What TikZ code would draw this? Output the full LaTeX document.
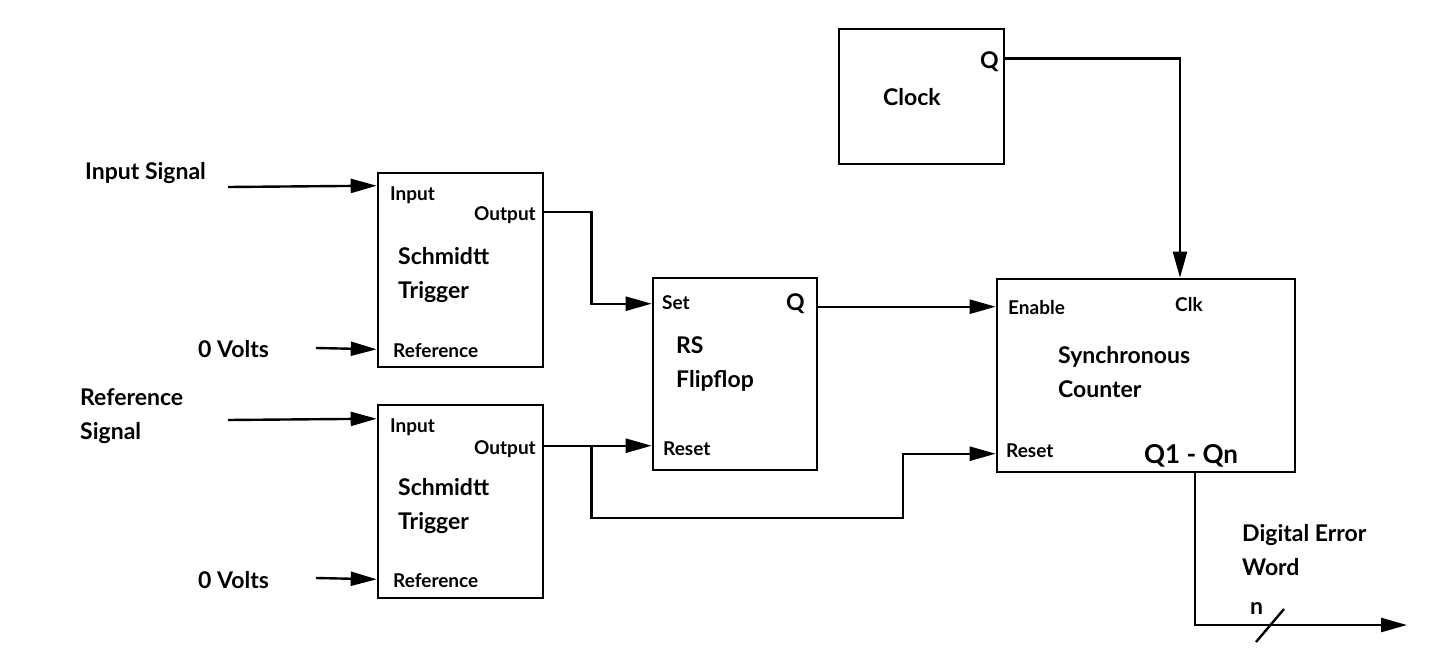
\documentclass[tikz,border=0pt]{standalone}
\usepackage{fontspec}
\setmainfont{Lato}
\usetikzlibrary{calc,arrows.meta}
\begin{document}
\begin{tikzpicture}[x=1pt,y=-1pt,
  blk/.style={draw,line width=2.6pt,minimum width=#1,inner sep=0pt},
  big/.style={font=\bfseries\fontsize{23}{34}\selectfont,align=left,inner sep=0pt},
  sml/.style={font=\bfseries\fontsize{19}{22}\selectfont,inner sep=0pt},
  wire/.style={line width=2.4pt},
  arr/.style={wire,-{Triangle[length=26pt,width=14pt]}}
]
\useasboundingbox (0,0) rectangle (1455,661);
% boxes
\node[blk=165pt,minimum height=194pt] (st1) at (460.5,270) {};
\node[blk=165pt,minimum height=193pt] (st2) at (460.5,501.5) {};
\node[blk=164pt,minimum height=192pt] (rs) at (735,374) {};
\node[blk=298pt,minimum height=193pt] (ctr) at (1146,375.5) {};
\node[blk=165pt,minimum height=135pt] (clk) at (921.5,96.5) {};
% labels in boxes
\node[sml,anchor=west] (st1in) at (390,195) {Input};
\node[sml,anchor=east] (st1out) at (536,215) {Output};
\node[big,anchor=west] (st1t) at (398,275) {Schmidtt\\Trigger};
\node[sml,anchor=west] (st1ref) at (393,351) {Reference};
\node[sml,anchor=west] (st2in) at (390,427) {Input};
\node[sml,anchor=east] (st2out) at (536,449) {Output};
\node[big,anchor=west] (st2t) at (398,506) {Schmidtt\\Trigger};
\node[sml,anchor=west] (st2ref) at (393,581) {Reference};
\node[sml,anchor=west] (rsset) at (662,303) {Set};
\node[big,anchor=east] (rsq) at (805,304) {Q};
\node[big,anchor=west] (rst) at (676,364) {RS\\Flipflop};
\node[sml,anchor=west] (rsreset) at (663,449) {Reset};
\node[sml,anchor=west] (ctren) at (1008,308) {Enable};
\node[sml,anchor=west] (ctrclk) at (1175,305) {Clk};
\node[big,anchor=west] (ctrt) at (1058,372) {Synchronous\\Counter};
\node[sml,anchor=west] (ctrreset) at (1006,451) {Reset};
\node[font=\bfseries\fontsize{26}{30}\selectfont,inner sep=0pt,anchor=west] (ctrq) at (1144,456) {Q1 - Qn};
\node[big,anchor=east] (clkq) at (999,62) {Q};
\node[big,anchor=west] (clkt) at (883,97) {Clock};
% outside labels
\node[big,anchor=west] (insig) at (85,173) {Input Signal};
\node[big,anchor=west] (v1) at (198,349) {0 Volts};
\node[big,anchor=west] (refsig) at (80,416.5) {Reference\\Signal};
\node[big,anchor=west] (v2) at (198,580) {0 Volts};
\node[big,anchor=west] (dew) at (1242,550.5) {Digital Error\\Word};
\node[big,anchor=west] (nlab) at (1250,608) {n};
% free ends
\coordinate (a1) at (228,187);
\coordinate (a2) at (316,348);
\coordinate (a3) at (228,420);
\coordinate (a4) at (316,578);
\coordinate (mid) at (903,518);
\coordinate (endout) at (1407,625);
% ports
\coordinate (p1) at ($(st1.north west)+(0,14)$);
\coordinate (p2) at ($(st1.south west)+(0,-19)$);
\coordinate (p3) at ($(st2.north west)+(0,15)$);
\coordinate (p4) at ($(st2.south west)+(0,-20)$);
\coordinate (o1) at ($(st1.north east)+(0,40)$);
\coordinate (o2) at ($(st2.north east)+(0,42)$);
\coordinate (rS) at ($(rs.north west)+(0,27)$);
\coordinate (rR) at ($(rs.north west)+(0,169)$);
\coordinate (rQ) at ($(rs.north east)+(0,30)$);
\coordinate (cE) at ($(ctr.north west)+(0,29)$);
\coordinate (cR) at ($(ctr.north west)+(0,176)$);
\coordinate (cC) at ($(ctr.north)+(34,0)$);
\coordinate (cO) at ($(ctr.south)+(49,0)$);
\coordinate (kQ) at ($(clk.north east)+(0,31)$);
% wires
\draw[arr] (a1) -- (p1);
\draw[arr] (a2) -- (p2);
\draw[arr] (a3) -- (p3);
\draw[arr] (a4) -- (p4);
\draw[arr] (o1) -- ++(47,0) |- (rS);
\draw[arr] (o2) -- (rR);
\draw[arr] ($(o2)+(47,0)$) |- (mid) |- (cR);
\draw[arr] (rQ) -- (cE);
\draw[arr] (kQ) -| (cC);
\draw[arr] (cO) |- (endout);
\draw[wire] (1256,642) -- (1284,609);
\end{tikzpicture}
\end{document}
